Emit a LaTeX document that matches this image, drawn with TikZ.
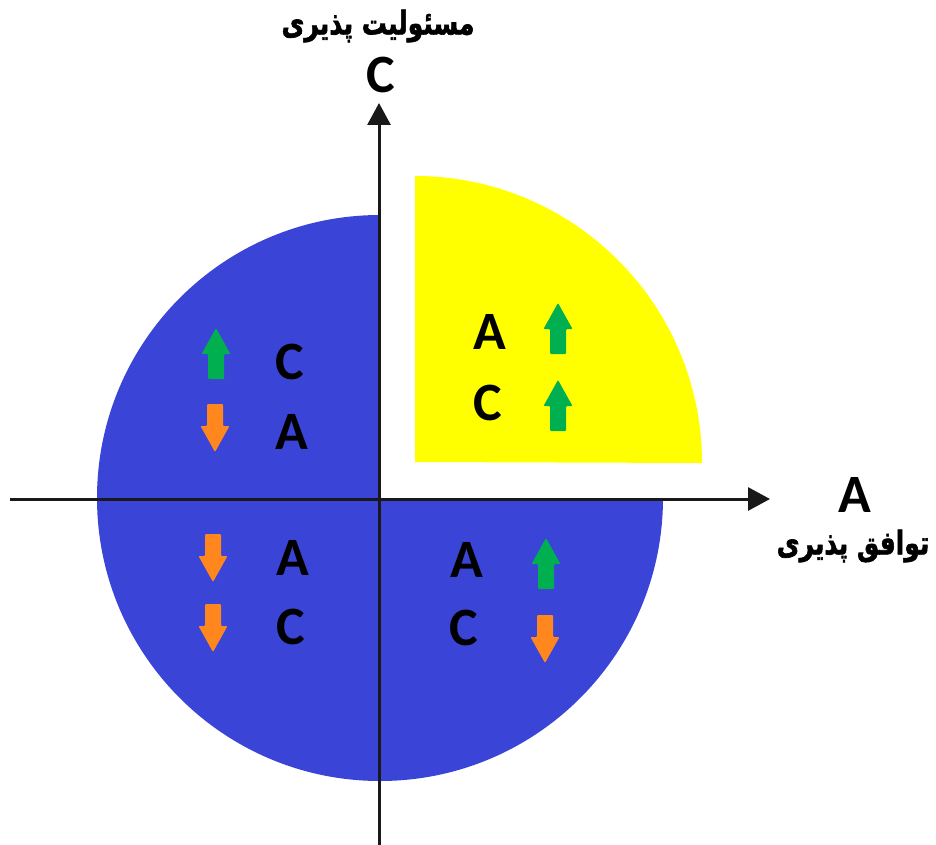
\documentclass[tikz,border=0pt]{standalone}
\usepackage{fontspec}
\usepackage{graphicx}
\setmainfont{Carlito}
\newfontfamily\arabicfont[Script=Arabic,BoldFeatures={FakeBold=2}]{DejaVu Sans}
\TeXXeTstate=1
\usetikzlibrary{arrows.meta}
\definecolor{qblue}{RGB}{58,68,214}
\definecolor{qyellow}{RGB}{255,255,0}
\definecolor{qgreen}{RGB}{0,176,80}
\definecolor{qorange}{RGB}{255,135,30}
\newcommand\blkup[3]{\fill[#3,rounded corners=1pt] (#1,#2) -- ++(14.5,26) -- ++(-6.5,0) -- ++(0,25) -- ++(-16,0) -- ++(0,-25) -- ++(-6.5,0) -- cycle;}
\newcommand\blkdown[3]{\fill[#3,rounded corners=1pt] (#1,#2) -- ++(14.5,-26) -- ++(-6.5,0) -- ++(0,-22) -- ++(-16,0) -- ++(0,22) -- ++(-6.5,0) -- cycle;}
\newcommand\fatext[1]{\scalebox{0.96}[1.25]{\beginR #1\endR}}
\tikzset{
  letter/.style={font=\fontsize{54}{58}\selectfont\bfseries, text=black, inner sep=0pt},
  axislabel/.style={font=\fontsize{54}{58}\selectfont\bfseries, text=black, inner sep=0pt},
  fa/.style={font=\arabicfont\fontsize{26}{32}\selectfont\bfseries, text=black, inner sep=0pt},
  axis/.style={line width=3pt, black!90, -{Triangle[length=22pt,width=23pt]}},
}
\begin{document}
\begin{tikzpicture}[x=1pt,y=-1pt]
\useasboundingbox (0,0) rectangle (936,845);
% blue circle
\fill[qblue] (380,498) circle (283);
% white upper-right quadrant and yellow quarter
\fill[white] (380,498) -- (380,160) -- (720,160) -- (720,498) -- cycle;
\fill[qyellow] (415,462) -- (415,176) arc[start angle=90,end angle=0,x radius=287,y radius=-287] -- cycle;
% axes
\coordinate (hstart) at (10,499);
\coordinate (hend) at (770,499);
\coordinate (vstart) at (379,845);
\coordinate (vend) at (379,103);
\draw[axis] (hstart) -- (hend);
\draw[axis] (vstart) -- (vend);
% axis labels
\node[fa] (faC) at (378,26) {\fatext{مسئولیت پذیری}};
\node[axislabel] (axC) at (381,75) {C};
\node[axislabel] (axA) at (855,495) {A};
\node[fa] (faA) at (853,546) {\fatext{توافق پذیری}};
% upper-left
\node[letter] (ulC) at (290,362) {C};
\node[letter] (ulA) at (292,432) {A};
\blkup{216}{328}{qgreen}
\blkdown{215}{452}{qorange}
% yellow
\node[letter] (yA) at (490,332) {A};
\node[letter] (yC) at (488,403) {C};
\blkup{558}{303}{qgreen}
\blkup{558}{380}{qgreen}
% lower-right
\node[letter] (lrA) at (467,560) {A};
\node[letter] (lrC) at (464,628) {C};
\blkup{546}{538}{qgreen}
\blkdown{545}{663}{qorange}
% lower-left
\node[letter] (llA) at (293,558) {A};
\node[letter] (llC) at (291,627) {C};
\blkdown{213}{582}{qorange}
\blkdown{213}{652}{qorange}
\end{tikzpicture}
\end{document}
